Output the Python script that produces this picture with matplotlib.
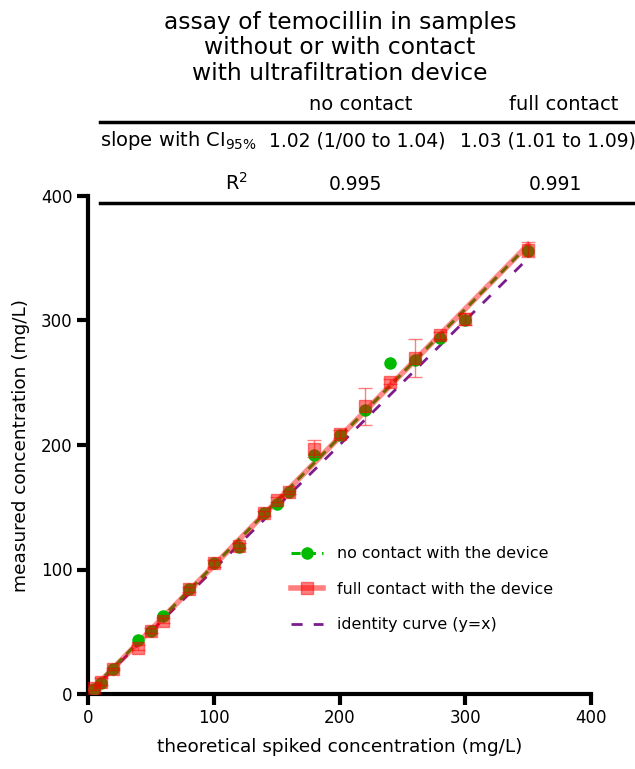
import matplotlib
matplotlib.use("Agg")
import matplotlib.pyplot as plt
import numpy as np
from matplotlib.lines import Line2D

# ---- data ----
x_conc = [5, 10, 20, 40, 50, 60, 80, 100, 120, 140, 150, 160, 180, 200, 220, 240, 260, 280, 300, 350]
no_contact = [4, 9, 20, 43, 51, 63, 84, 105, 118, 145, 153, 162, 192, 208, 228, 266, 268, 286, 300, 356]
full_contact = [5, 10, 20, 37, 51, 59, 84, 105, 119, 145, 156, 162, 197, 209, 231, 251, 270, 288, 301, 357]
full_contact_err = [2, 3, 1, 2, 2, 2, 2, 3, 2, 2, 2, 1, 7, 3, 15, 2, 15, 3, 5, 6]
identity_x = [0, 350]

title_lines = ["assay of temocillin in samples", "without or with contact", "with ultrafiltration device"]
col_headers = ["no contact", "full contact"]
row_labels = ["slope with CI$_{\\mathregular{95\\%}}$", "R$^{\\mathregular{2}}$"]
slope_vals = ["1.02 (1/00 to 1.04)", "1.03 (1.01 to 1.09)"]
r2_vals = ["0.995", "0.991"]
xticks = [0, 100, 200, 300, 400]
yticks = [0, 100, 200, 300, 400]

W, H = 635, 769
fig = plt.figure(figsize=(W / 100, H / 100), dpi=100)
ax = fig.add_axes([88 / W, 1 - 694 / H, (591 - 88) / W, (694 - 196) / H])

green = "#00bb00"
red = (1, 0, 0)
purple = "#7a1c8c"

xs = np.array(x_conc, dtype=float)
xfit = np.array([xs.min(), xs.max()])
pg = np.polyfit(xs, no_contact, 1)
pr = np.polyfit(xs, full_contact, 1)

ax.plot(identity_x, identity_x, ls=(0, (4, 4)), color=purple, lw=2, zorder=2)
# fitted lines
ax.plot(xfit, np.polyval(pg, xfit), ls=(0, (3, 2)), color=green, lw=2.2, zorder=3)
ax.plot(xfit, np.polyval(pr, xfit), ls="-", color=red, alpha=0.45, lw=4, zorder=4)
# points
ax.plot(x_conc, no_contact, ls="none", marker="o", ms=8, mec=green, mfc=green, zorder=5)
ax.errorbar(x_conc, full_contact, yerr=full_contact_err, ls="none", color=red, alpha=0.5,
            marker="s", ms=9, elinewidth=1.0, capsize=5, capthick=1.0, zorder=6)

ax.set_xlim(0, 400)
ax.set_ylim(0, 400)
ax.set_xticks(xticks)
ax.set_yticks(yticks)
for s in ["top", "right"]:
    ax.spines[s].set_visible(False)
for s in ["left", "bottom"]:
    ax.spines[s].set_linewidth(3)
ax.tick_params(width=3, length=8, labelsize=12, direction="out", pad=3)
ax.set_xlabel("theoretical spiked concentration (mg/L)", fontsize=13.3, labelpad=8)
ax.set_ylabel("measured concentration (mg/L)", fontsize=13.3, labelpad=8)

handles = [
    Line2D([], [], ls=(0, (3, 2)), color=green, lw=2.2, marker="o", ms=8),
    Line2D([], [], ls="-", color=red, alpha=0.5, lw=4, marker="s", ms=9),
    Line2D([], [], ls=(0, (4, 4)), color=purple, lw=2),
]
labels = ["no contact with the device", "full contact with the device", "identity curve (y=x)"]
ax.legend(handles, labels, loc="lower left", bbox_to_anchor=(0.375, 0.095), frameon=False,
          fontsize=11.4, handlelength=2.0, labelspacing=1.3, handletextpad=0.9)

# ---- title & table ----
for i, t in enumerate(title_lines):
    fig.text(340 / W, 1 - (22 + 26 * i) / H, t, ha="center", va="center", fontsize=16.8)

fs = 13.5
fig.text(361 / W, 1 - 104 / H, col_headers[0], ha="center", va="center", fontsize=14)
fig.text(564 / W, 1 - 104 / H, col_headers[1], ha="center", va="center", fontsize=14)
fig.add_artist(Line2D([100 / W, 1], [1 - 122 / H, 1 - 122 / H], color="black", lw=2.5))
fig.text(257 / W, 1 - 141 / H, row_labels[0], ha="right", va="center", fontsize=14)
fig.text(357 / W, 1 - 141 / H, slope_vals[0], ha="center", va="center", fontsize=fs)
fig.text(548 / W, 1 - 141 / H, slope_vals[1], ha="center", va="center", fontsize=fs)
fig.text(236 / W, 1 - 183 / H, row_labels[1], ha="center", va="center", fontsize=14)
fig.text(355 / W, 1 - 185 / H, r2_vals[0], ha="center", va="center", fontsize=fs)
fig.text(555 / W, 1 - 185 / H, r2_vals[1], ha="center", va="center", fontsize=fs)
fig.add_artist(Line2D([100 / W, 1], [1 - 203 / H, 1 - 203 / H], color="black", lw=2.5))

fig.savefig("out.png", dpi=100)
